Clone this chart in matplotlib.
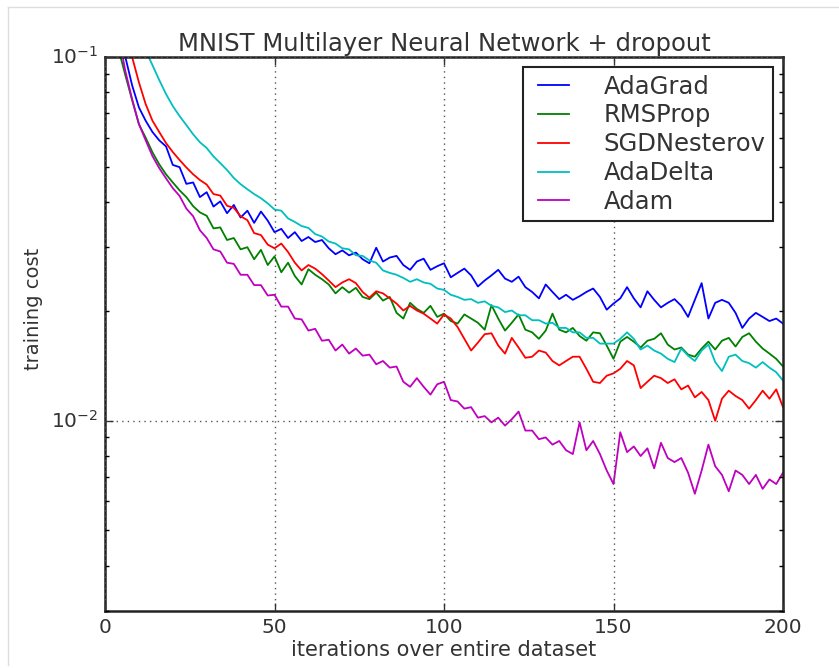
import numpy as np
import matplotlib
matplotlib.use("Agg")
import matplotlib.pyplot as plt
from matplotlib.lines import Line2D

plt.style.use("classic")

iterations = np.arange(2, 201, 2)

adagrad = [0.22, 0.13, 0.100, 0.0836, 0.0727, 0.0668, 0.0622, 0.0590, 0.0568, 0.0505,
           0.0498, 0.0448, 0.0452, 0.0412, 0.0425, 0.0388, 0.0401, 0.0372, 0.0392, 0.0362,
           0.0378, 0.0350, 0.0376, 0.0355, 0.0330, 0.0337, 0.0318, 0.0330, 0.0312, 0.0320,
           0.0310, 0.0314, 0.0298, 0.0287, 0.0294, 0.0285, 0.0290, 0.0278, 0.0271, 0.0299,
           0.0274, 0.0281, 0.0284, 0.0268, 0.0260, 0.0274, 0.0279, 0.0260, 0.0266, 0.0271,
           0.0248, 0.0255, 0.0262, 0.0251, 0.0234, 0.0243, 0.0251, 0.0260, 0.0246, 0.0241,
           0.0249, 0.0233, 0.0226, 0.0217, 0.0237, 0.0226, 0.0216, 0.0222, 0.0215, 0.0220,
           0.0226, 0.0231, 0.0219, 0.0202, 0.0210, 0.0217, 0.0233, 0.0217, 0.0205, 0.0227,
           0.0215, 0.0205, 0.0211, 0.0216, 0.0207, 0.0193, 0.0215, 0.0239, 0.0191, 0.0211,
           0.0215, 0.0211, 0.0198, 0.0180, 0.0191, 0.0198, 0.0193, 0.0188, 0.0191, 0.0185]

rmsprop = [0.16, 0.105, 0.0891, 0.0761, 0.0654, 0.0600, 0.0547, 0.0507, 0.0476, 0.0452,
           0.0430, 0.0412, 0.0389, 0.0374, 0.0366, 0.0338, 0.0340, 0.0314, 0.0318, 0.0296,
           0.0300, 0.0278, 0.0295, 0.0268, 0.0283, 0.0256, 0.0272, 0.0250, 0.0237, 0.0261,
           0.0252, 0.0245, 0.0237, 0.0224, 0.0233, 0.0225, 0.0232, 0.0219, 0.0216, 0.0225,
           0.0214, 0.0219, 0.0198, 0.0191, 0.0211, 0.0203, 0.0198, 0.0207, 0.0193, 0.0197,
           0.0188, 0.0185, 0.0196, 0.0191, 0.0186, 0.0178, 0.0208, 0.0191, 0.0177, 0.0186,
           0.0196, 0.0178, 0.0175, 0.0168, 0.0177, 0.0197, 0.0178, 0.0175, 0.0180, 0.0171,
           0.0166, 0.0175, 0.0174, 0.0161, 0.0148, 0.0165, 0.0170, 0.0165, 0.0159, 0.0166,
           0.0168, 0.0174, 0.0162, 0.0157, 0.0159, 0.0152, 0.0150, 0.0158, 0.0165, 0.0157,
           0.0166, 0.0169, 0.0160, 0.0170, 0.0174, 0.0165, 0.0158, 0.0153, 0.0148, 0.0141]

sgd_nesterov = [0.35, 0.20, 0.130, 0.100, 0.0852, 0.0742, 0.0668, 0.0622, 0.0580, 0.0548,
                0.0521, 0.0497, 0.0476, 0.0459, 0.0446, 0.0420, 0.0416, 0.0390, 0.0385, 0.0365,
                0.0356, 0.0328, 0.0324, 0.0305, 0.0298, 0.0307, 0.0291, 0.0272, 0.0259, 0.0268,
                0.0262, 0.0253, 0.0243, 0.0233, 0.0240, 0.0245, 0.0239, 0.0226, 0.0218, 0.0227,
                0.0224, 0.0217, 0.0210, 0.0201, 0.0207, 0.0201, 0.0197, 0.0191, 0.0185, 0.0196,
                0.0191, 0.0181, 0.0168, 0.0156, 0.0164, 0.0173, 0.0174, 0.0161, 0.0153, 0.0169,
                0.0159, 0.0149, 0.0150, 0.0156, 0.0154, 0.0146, 0.0142, 0.0146, 0.0150, 0.0150,
                0.0139, 0.0128, 0.0127, 0.0133, 0.0135, 0.0139, 0.0146, 0.0142, 0.0123, 0.0128,
                0.0133, 0.0131, 0.0127, 0.0130, 0.0122, 0.0125, 0.0116, 0.0120, 0.0114, 0.0100,
                0.0115, 0.0121, 0.0117, 0.0114, 0.0108, 0.0114, 0.0121, 0.0115, 0.0122, 0.0109]

adadelta = [0.50, 0.30, 0.20, 0.15, 0.12, 0.104, 0.0950, 0.0864, 0.0791, 0.0733,
            0.0688, 0.0650, 0.0613, 0.0583, 0.0562, 0.0533, 0.0511, 0.0489, 0.0465, 0.0447,
            0.0433, 0.0420, 0.0409, 0.0396, 0.0381, 0.0378, 0.0360, 0.0352, 0.0343, 0.0339,
            0.0326, 0.0321, 0.0311, 0.0307, 0.0298, 0.0296, 0.0285, 0.0284, 0.0276, 0.0272,
            0.0259, 0.0255, 0.0252, 0.0247, 0.0241, 0.0245, 0.0240, 0.0238, 0.0231, 0.0229,
            0.0222, 0.0219, 0.0215, 0.0216, 0.0211, 0.0213, 0.0207, 0.0205, 0.0199, 0.0201,
            0.0195, 0.0195, 0.0189, 0.0189, 0.0185, 0.0186, 0.0180, 0.0180, 0.0175, 0.0175,
            0.0169, 0.0169, 0.0163, 0.0163, 0.0163, 0.0168, 0.0175, 0.0168, 0.0157, 0.0161,
            0.0156, 0.0153, 0.0148, 0.0145, 0.0158, 0.0151, 0.0146, 0.0156, 0.0162, 0.0145,
            0.0137, 0.0150, 0.0152, 0.0146, 0.0144, 0.0140, 0.0145, 0.0140, 0.0136, 0.0129]

adam = [0.20, 0.115, 0.0915, 0.0766, 0.0654, 0.0590, 0.0534, 0.0495, 0.0464, 0.0436,
        0.0415, 0.0383, 0.0365, 0.0334, 0.0318, 0.0296, 0.0292, 0.0272, 0.0270, 0.0252,
        0.0252, 0.0236, 0.0236, 0.0221, 0.0222, 0.0206, 0.0206, 0.0191, 0.0190, 0.0177,
        0.0179, 0.0166, 0.0167, 0.0156, 0.0162, 0.0153, 0.0158, 0.0151, 0.0152, 0.0143,
        0.0146, 0.0140, 0.0141, 0.0128, 0.0124, 0.0131, 0.0124, 0.0118, 0.0126, 0.0128,
        0.0114, 0.0113, 0.0108, 0.0109, 0.0102, 0.0103, 0.0099, 0.0102, 0.0097, 0.0101,
        0.0106, 0.0094, 0.0094, 0.0089, 0.0090, 0.0086, 0.0088, 0.0083, 0.0081, 0.0099,
        0.0083, 0.0088, 0.0081, 0.0073, 0.0067, 0.0093, 0.0082, 0.0085, 0.0080, 0.0084,
        0.0074, 0.0087, 0.0079, 0.0077, 0.0079, 0.0072, 0.0063, 0.0073, 0.0086, 0.0075,
        0.0071, 0.0064, 0.0073, 0.0071, 0.0067, 0.0071, 0.0065, 0.0069, 0.0067, 0.0072]

series_names = ["AdaGrad", "RMSProp", "SGDNesterov", "AdaDelta", "Adam"]
series_values = [adagrad, rmsprop, sgd_nesterov, adadelta, adam]
series_colors = ["b", "g", "r", "c", "m"]

x_ticks = [0, 50, 100, 150, 200]

fig = plt.figure(figsize=(8.39, 6.68), dpi=100, facecolor="white")
ax = fig.add_axes([105 / 839, 1 - 611 / 668, 678 / 839, 554 / 668])
ax.set_facecolor("white")

for name, vals, col in zip(series_names, series_values, series_colors):
    ax.plot(iterations, vals, color=col, lw=1.3, label=name)

ax.set_yscale("log")
ax.set_xlim(0, 200)
ax.set_ylim(0.003, 0.1)
ax.set_xticks(x_ticks)
ax.grid(True, which="major", color="#555555", linestyle=":", linewidth=1.0)
ax.tick_params(which="major", direction="in", length=6, width=1, labelsize=14.5,
               top=True, right=True, pad=5, colors="#333333")
ax.tick_params(which="minor", direction="in", length=3, width=1, top=True, right=True)
for s in ax.spines.values():
    s.set_linewidth(1.8)
    s.set_color("#222222")

ax.set_title("MNIST Multilayer Neural Network + dropout", fontsize=17.5,
             color="#333333", pad=4)
ax.set_xlabel("iterations over entire dataset", fontsize=15, color="#333333", labelpad=2)
ax.set_ylabel("training cost", fontsize=14, color="#333333")
ax.yaxis.set_label_coords(-0.091, 0.545)

leg = ax.legend(loc="upper right", fontsize=17.5, frameon=True, fancybox=False,
                handlelength=1.9, handletextpad=1.1, borderpad=0.3,
                labelspacing=0.2, borderaxespad=0.42)
leg.get_frame().set_edgecolor("#222222")
leg.get_frame().set_linewidth(1.5)
for t in leg.get_texts():
    t.set_color("#333333")

# light frame of the screenshot
fig.add_artist(Line2D([8 / 839, 8 / 839], [1 - 665 / 668, 1 - 7 / 668], color="#dddddd",
                      lw=1.0, transform=fig.transFigure))
fig.add_artist(Line2D([8 / 839, 1.0], [1 - 7 / 668, 1 - 7 / 668], color="#dddddd",
                      lw=1.0, transform=fig.transFigure))

fig.savefig("out.png", dpi=100, facecolor="white")
